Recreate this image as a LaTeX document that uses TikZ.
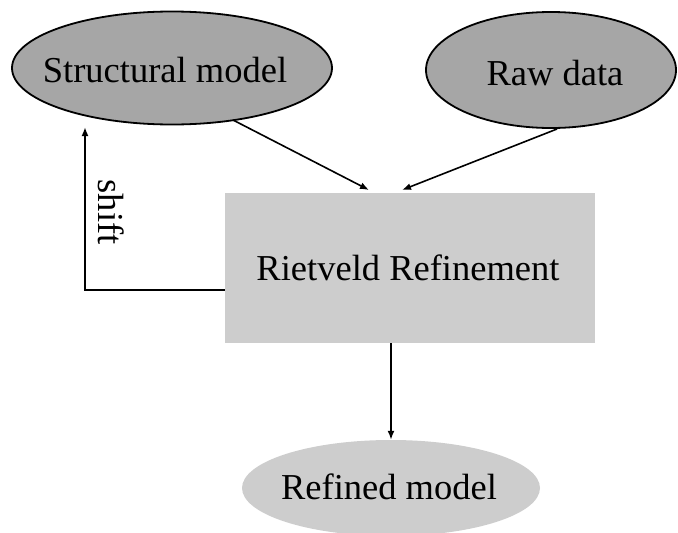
\documentclass[tikz,border=0pt]{standalone}
\usepackage{fontspec}
\setmainfont{Liberation Serif}
\usetikzlibrary{arrows.meta,calc,shapes.geometric}
\definecolor{darkfill}{HTML}{A6A6A6}
\definecolor{lightfill}{HTML}{CDCDCD}
\begin{document}
\begin{tikzpicture}[x=1pt,y=-1pt,
  every node/.style={font=\fontsize{36.5}{40}\selectfont, inner sep=0pt},
  topell/.style={ellipse, draw=black, line width=1.8pt, fill=darkfill},
  arr/.style={line width=1.6pt, -{Latex[length=9pt,width=7pt]}},
  shiftarr/.style={line width=2.5pt, -{Latex[length=9pt,width=7pt]}}]
\useasboundingbox (0,0) rectangle (678,533);
\node[topell, minimum width=320pt, minimum height=113pt] (sm) at (172,68) {};
\node (smt) at (165,70) {Structural model};
\node[topell, minimum width=250pt, minimum height=116pt] (rd) at (551,70) {};
\node (rdt) at (555,73) {Raw data};
\node[fill=lightfill, minimum width=370pt, minimum height=150pt] (rr) at (410,268) {};
\node (rrt) at (408,268) {Rietveld Refinement};
\node[ellipse, fill=lightfill, minimum width=298pt, minimum height=96pt] (ref) at (391,488) {};
\node (reft) at (389,487) {Refined model};
\coordinate (t1) at (369,190);
\coordinate (t2) at (402,190);
\coordinate (s1) at (233,120);
\coordinate (s2) at (557,129);
\coordinate (shtip) at (85,127);
\draw[arr] (s1) -- (t1);
\draw[arr] (s2) -- (t2);
\draw[arr] (ref.north |- rr.south) -- (ref.north);
\draw[shiftarr] ($(rr.west)+(0,22)$) -| (shtip);
\node[rotate=-90] (lbl) at (111,212) {shift};
\end{tikzpicture}
\end{document}
